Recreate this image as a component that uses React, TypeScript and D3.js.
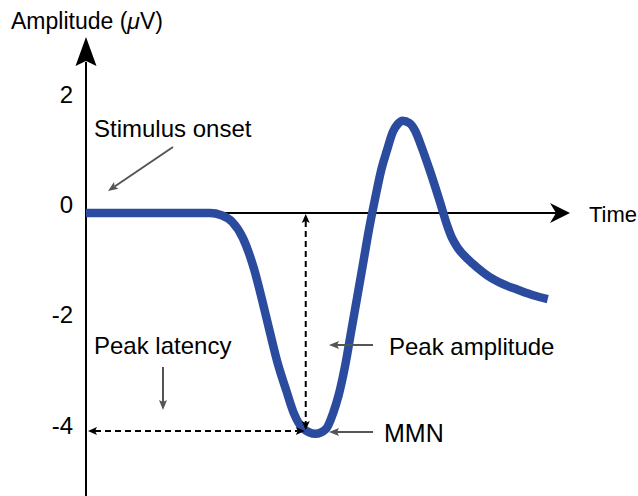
import React from "react";
import * as d3 from "d3";

// ERP waveform (MMN schematic), time in ms, amplitude in µV
const timeMs = [0, 76, 128, 140, 151, 162, 173, 182, 190, 198, 207, 215, 224, 237, 248, 255, 261, 268, 274, 280, 286, 292, 299, 305, 311, 317, 322, 327, 334, 340, 347, 355, 366, 373, 378, 384, 394, 405, 417, 431, 446, 462, 477];
const amplitudeUv = [0, 0, 0, -0.04, -0.16, -0.45, -0.98, -1.58, -2.16, -2.72, -3.22, -3.64, -3.9, -4.0, -3.91, -3.64, -3.3, -2.74, -2.14, -1.54, -0.94, -0.33, 0.29, 0.78, 1.14, 1.47, 1.61, 1.67, 1.63, 1.49, 1.18, 0.78, 0.18, -0.22, -0.45, -0.63, -0.83, -1.0, -1.16, -1.29, -1.39, -1.49, -1.56];
const yTicks = [2, 0, -2, -4];
const peakLatency = 227;
const peakAmplitude = -3.95;

const W = 638;
const H = 496;
const FONT = "'Liberation Sans', Arial, Helvetica, sans-serif";

// filled arrow head, optional notch at the back
const head = (tx: number, ty: number, angle: number, len: number, wid: number, notch = 0) => {
  const c = Math.cos(angle), s = Math.sin(angle);
  const pt = (a: number, b: number) => [tx - a * c - b * -s, ty - a * s - b * c];
  const p1 = pt(len, wid / 2);
  const p2 = pt(len - notch, 0);
  const p3 = pt(len, -wid / 2);
  return `M${tx},${ty}L${p1[0]},${p1[1]}L${p2[0]},${p2[1]}L${p3[0]},${p3[1]}Z`;
};

const Arrow = ({ x1, y1, x2, y2, color, dash, len = 10, wid = 8, both = false }: any) => {
  const a = Math.atan2(y2 - y1, x2 - x1);
  const sx = x1 + Math.cos(a) * (both ? len - 2 : 0);
  const sy = y1 + Math.sin(a) * (both ? len - 2 : 0);
  const ex = x2 - Math.cos(a) * (len - 2);
  const ey = y2 - Math.sin(a) * (len - 2);
  return (
    <g>
      <line x1={sx} y1={sy} x2={ex} y2={ey} stroke={color} strokeWidth={2} strokeDasharray={dash} />
      <path d={head(x2, y2, a, len, wid, 2)} fill={color} />
      {both && <path d={head(x1, y1, a + Math.PI, len, wid, 2)} fill={color} />}
    </g>
  );
};

export default function App() {
  const x = d3.scaleLinear().domain([0, 500]).range([86, 570]);
  const y = d3.scaleLinear().domain([-4, 2]).range([433.8, 102.6]);

  const line = d3
    .line<number>()
    .x((_, i) => x(timeMs[i]))
    .y((d) => y(d))
    .curve(d3.curveMonotoneX);

  const x0 = x(0);
  const y0 = y(0);
  const gray = "#555555";

  return (
    <svg width={W} height={H} style={{ position: "absolute", left: 0, top: 0 }} fontFamily={FONT}>
      <rect width={W} height={H} fill="#fff" />

      {/* axes */}
      <line x1={x0} y1={H} x2={x0} y2={62} stroke="#000" strokeWidth={2} />
      <path d={head(x0, 37, -Math.PI / 2, 29, 21, 5)} fill="#000" />
      <line x1={x0} y1={y0} x2={556} y2={y0} stroke="#000" strokeWidth={2} />
      <path d={head(570, y0, 0, 20, 20, 6)} fill="#000" />

      <text x={11} y={29} fontSize={23}>
        Amplitude (<tspan fontStyle="italic">μ</tspan>V)
      </text>
      <text x={589} y={y0 + 9} fontSize={22}>Time</text>

      {yTicks.map((t) => (
        <text key={t} x={73} y={y(t)} fontSize={24} textAnchor="end">
          {t}
        </text>
      ))}

      {/* waveform */}
      <path d={line(amplitudeUv) || ""} fill="none" stroke="#2b4c9e" strokeWidth={8.5} strokeLinejoin="round" />

      {/* peak latency / amplitude guides */}
      <Arrow x1={x(peakLatency)} y1={y0 + 1} x2={x(peakLatency)} y2={y(peakAmplitude) - 1} color="#000" dash="6 4" len={9} wid={8} both />
      <Arrow x1={x0 + 2} y1={y(peakAmplitude)} x2={x(peakLatency) - 1} y2={y(peakAmplitude)} color="#000" dash="6 4" len={9} wid={8} both />

      {/* annotations */}
      <text x={94} y={137} fontSize={24}>Stimulus onset</text>
      <Arrow x1={173} y1={147} x2={108} y2={191} color={gray} />

      <text x={94} y={354} fontSize={24}>Peak latency</text>
      <Arrow x1={163} y1={367} x2={163} y2={410} color={gray} />

      <text x={389} y={355} fontSize={24}>Peak amplitude</text>
      <Arrow x1={373} y1={345} x2={329} y2={345} color={gray} />

      <text x={384} y={442} fontSize={25}>MMN</text>
      <Arrow x1={373} y1={432} x2={329} y2={432} color={gray} />
    </svg>
  );
}
